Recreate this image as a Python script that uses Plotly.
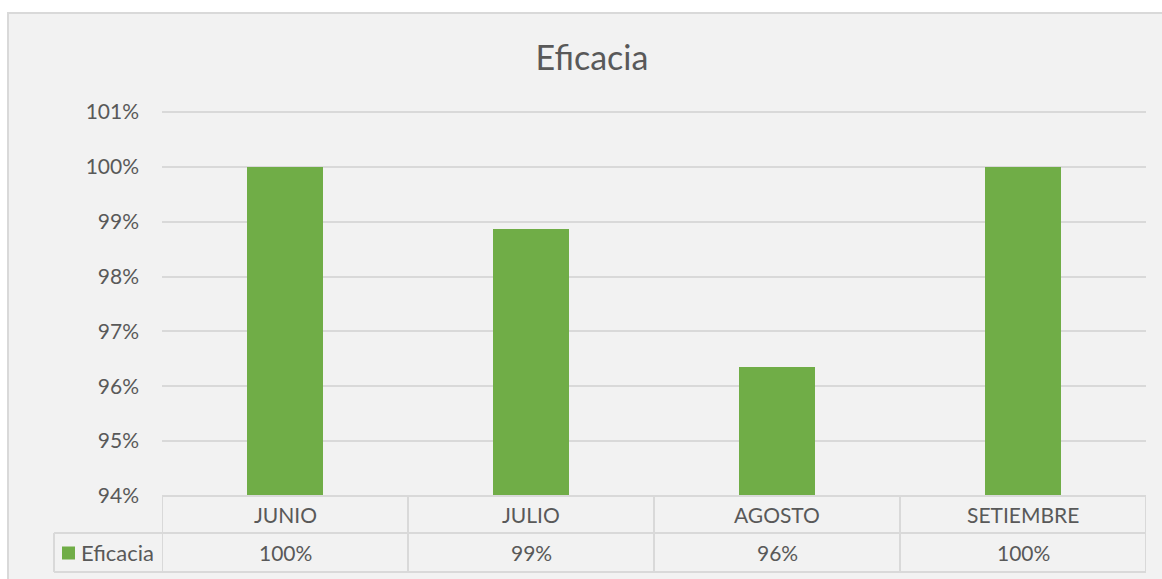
import plotly.graph_objects as go

# Monthly efficacy values
months = ["JUNIO", "JULIO", "AGOSTO", "SETIEMBRE"]
eficacia = [1.0, 0.9887, 0.9636, 1.0]
series_name = "Eficacia"
y_ticks = [0.94, 0.95, 0.96, 0.97, 0.98, 0.99, 1.00, 1.01]

W, H = 1162, 579
PLOT_L, PLOT_R, PLOT_T, PLOT_B = 162, 1146, 110, 496
ROW1_B, ROW2_B = 533, 572
LEG_L = 54
Y_MIN = 0.94
Y_MAX = 1.01 + 2 * 0.07 / (496 - 112)  # leave ~2px headroom above the top gridline

BAR_COLOR = "#70ad47"
GRID = "#d9d9d9"
TXT = "#595959"
FONT = "Lato"
FS = 21


def px_x(px):
    return (px - PLOT_L) / (PLOT_R - PLOT_L)


def px_y(py):
    return (PLOT_B - py) / (PLOT_B - PLOT_T)


fig = go.Figure()
fig.add_trace(go.Bar(
    x=months, y=eficacia, name=series_name,
    marker=dict(color=BAR_COLOR, line=dict(width=0)),
    width=0.31,
))

shapes = []
# chart area background and border
shapes.append(dict(type="rect", xref="paper", yref="paper",
                   x0=px_x(8), x1=px_x(W + 20), y0=px_y(13), y1=px_y(H + 20),
                   fillcolor="#f2f2f2", line=dict(color=GRID, width=2), layer="below"))

# data table grid
line = dict(color=GRID, width=2)
shapes.append(dict(type="line", xref="paper", yref="paper",
                   x0=0, x1=1, y0=0, y1=0, line=line))
for yy in (ROW1_B, ROW2_B):
    shapes.append(dict(type="line", xref="paper", yref="paper",
                       x0=px_x(LEG_L), x1=1, y0=px_y(yy), y1=px_y(yy), line=line))
for i in range(len(months) + 1):
    shapes.append(dict(type="line", xref="x", yref="paper",
                       x0=i - 0.5, x1=i - 0.5, y0=0, y1=px_y(ROW2_B), line=line))
shapes.append(dict(type="line", xref="paper", yref="paper",
                   x0=px_x(LEG_L), x1=px_x(LEG_L), y0=px_y(ROW1_B), y1=px_y(ROW2_B), line=line))

# legend key in the table
row2_mid = (ROW1_B + ROW2_B) / 2
shapes.append(dict(type="rect", xref="paper", yref="paper",
                   x0=px_x(62), x1=px_x(75), y0=px_y(row2_mid + 7), y1=px_y(row2_mid - 6),
                   fillcolor=BAR_COLOR, line=dict(width=0)))

annotations = []
row1_mid = (PLOT_B + ROW1_B) / 2
for m, v in zip(months, eficacia):
    annotations.append(dict(x=m, y=px_y(row1_mid), xref="x", yref="paper",
                            text=m, showarrow=False, xanchor="center", yanchor="middle",
                            font=dict(family=FONT, size=FS, color=TXT)))
    annotations.append(dict(x=m, y=px_y(row2_mid), xref="x", yref="paper",
                            text=f"{v:.0%}", showarrow=False, xanchor="center", yanchor="middle",
                            font=dict(family=FONT, size=FS, color=TXT)))
annotations.append(dict(x=px_x(79), y=px_y(row2_mid), xref="paper", yref="paper",
                        text=series_name, showarrow=False, xanchor="left", yanchor="middle",
                        font=dict(family=FONT, size=FS + 1, color=TXT)))

fig.update_layout(
    width=W, height=H, autosize=False,
    margin=dict(l=PLOT_L, r=W - PLOT_R, t=PLOT_T, b=H - PLOT_B, pad=0),
    paper_bgcolor="white", plot_bgcolor="rgba(0,0,0,0)",
    showlegend=False,
    title=dict(text="Eficacia", x=592 / W, xref="container", xanchor="center",
               y=1 - 58 / H, yref="container", yanchor="middle",
               font=dict(family=FONT, size=34, color=TXT)),
    shapes=shapes, annotations=annotations,
    bargap=0,
)
fig.update_xaxes(showticklabels=False, showgrid=False, zeroline=False, showline=False,
                 range=[-0.5, len(months) - 0.5], fixedrange=True)
fig.update_yaxes(range=[Y_MIN, Y_MAX], tickvals=y_ticks, tickformat=".0%",
                 showgrid=True, gridcolor=GRID, gridwidth=2, zeroline=False, showline=False,
                 ticks="", ticklabelstandoff=22,
                 tickfont=dict(family=FONT, size=FS, color=TXT), fixedrange=True)

fig.write_html("out.html", config={"displayModeBar": False})
